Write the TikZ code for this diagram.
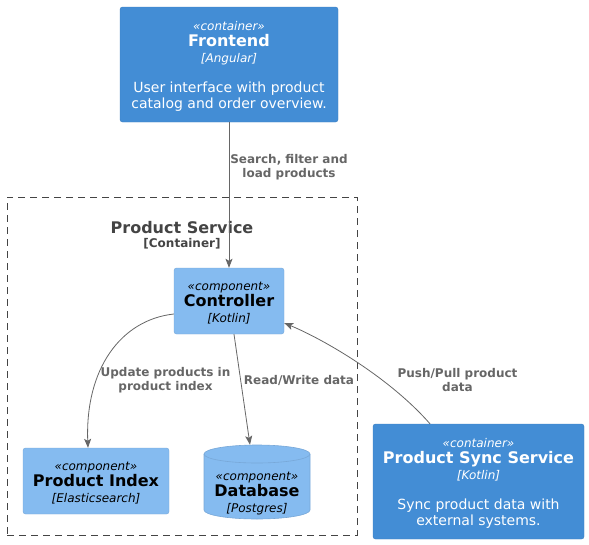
\documentclass[tikz,border=0pt]{standalone}
\usepackage{fontspec}
\setmainfont{DejaVu Sans}
\usetikzlibrary{arrows.meta}
\tikzset {>={Stealth[length=9pt,width=7pt,inset=2pt]}}

\definecolor{contfill}{HTML}{438DD5}
\definecolor{contline}{HTML}{3C7FC0}
\definecolor{compfill}{HTML}{85BBF0}
\definecolor{compline}{HTML}{78A8D8}
\definecolor{relgray}{HTML}{666666}
\definecolor{bndgray}{HTML}{444444}

\newcommand{\stereotxt}[2][13pt]{{\itshape\fontsize{12}{16}\selectfont\rule{0pt}{#1}«#2»}}
\newcommand{\nametxt}[1]{{\bfseries\fontsize{16}{16}\selectfont #1}}
\newcommand{\techtxt}[1]{{\itshape\fontsize{12}{16}\selectfont [#1]}}
\newcommand{\desctxt}[1]{{\fontsize{14}{16}\selectfont #1}}

\begin{document}
\begin{tikzpicture}[x=1pt,y=-1pt,
  container/.style={draw=contline,fill=contfill,text=white,rounded corners=2.5pt,
    align=center,inner sep=0pt,font=\fontsize{12}{16}\selectfont},
  component/.style={draw=compline,fill=compfill,text=black,rounded corners=2.5pt,
    align=center,inner sep=0pt,font=\fontsize{12}{16}\selectfont},
  database/.style={text=black,align=center,inner sep=0pt,font=\fontsize{12}{16}\selectfont},
  boundary/.style={draw=bndgray,dash pattern=on 7pt off 5pt,line width=0.8pt},
  rel/.style={->,draw=relgray,line width=0.8pt},
  rellabel/.style={text=relgray,align=center,inner sep=0pt,
    font=\bfseries\fontsize{12}{14}\selectfont}]
\useasboundingbox (0,0) rectangle (589,544);

% boundary
\node[boundary,minimum width=350pt,minimum height=338pt] (svc) at (182,366) {};
\node[text=bndgray,inner sep=0pt,font=\bfseries\fontsize{16}{16}\selectfont]
  (svcname) at (182,228) {Product Service};
\node[text=bndgray,inner sep=0pt,font=\bfseries\fontsize{12}{14}\selectfont]
  (svctype) at (182,244) {[Container]};

% elements
\node[container,minimum width=218pt,minimum height=115pt] (frontend) at (229,64.5)
  {\stereotxt{container}\\\nametxt{Frontend}\\\techtxt{Angular}\\[14pt]
   \desctxt{User interface with product}\\\desctxt{catalog and order overview.}};
\node[component,minimum width=110pt,minimum height=66pt] (controller) at (229,301)
  {\stereotxt{component}\\\nametxt{Controller}\\\techtxt{Kotlin}};
\node[component,minimum width=146pt,minimum height=66pt] (index) at (96,481)
  {\stereotxt{component}\\\nametxt{Product Index}\\\techtxt{Elasticsearch}};
% cylinder drawn by hand
\filldraw[fill=compfill,draw=compline,line width=0.6pt]
  (204,454) -- (204,510) arc[start angle=180,end angle=0,x radius=53,y radius=9]
  -- (310,454) arc[start angle=0,end angle=-180,x radius=53,y radius=9] -- cycle;
\draw[compline,line width=0.6pt] (204,454) arc[start angle=180,end angle=0,x radius=53,y radius=9];
\node[database,minimum width=106pt,minimum height=74pt] (db) at (257,482)
  {\stereotxt[31pt]{component}\\\nametxt{Database}\\\techtxt{Postgres}};
\node[container,minimum width=211pt,minimum height=115pt] (sync) at (478.5,481.5)
  {\stereotxt{container}\\\nametxt{Product Sync Service}\\\techtxt{Kotlin}\\[14pt]
   \desctxt{Sync product data with}\\\desctxt{external systems.}};

% relations
\draw[rel] (frontend.south) -- (controller.north);
\draw[rel] ([yshift=-13pt]controller.west) .. controls (120,320) and (85,370) .. ([xshift=-8pt]index.north);
\draw[rel] ([xshift=5pt]controller.south) -- ([xshift=-7pt]db.north);
\draw[rel] ([xshift=-48.5pt]sync.north) .. controls (390,378) and (325,340) .. ([yshift=-22pt]controller.east);

\node[rellabel] (searchlbl) at (289,167) {Search, filter and\\load products};
\node[rellabel] (updatelbl) at (165.5,380) {Update products in\\product index};
\node[rellabel] (rwlbl) at (299,380) {Read/Write data};
\node[rellabel] (pushlbl) at (457.5,380) {Push/Pull product\\data};
\end{tikzpicture}
\end{document}
